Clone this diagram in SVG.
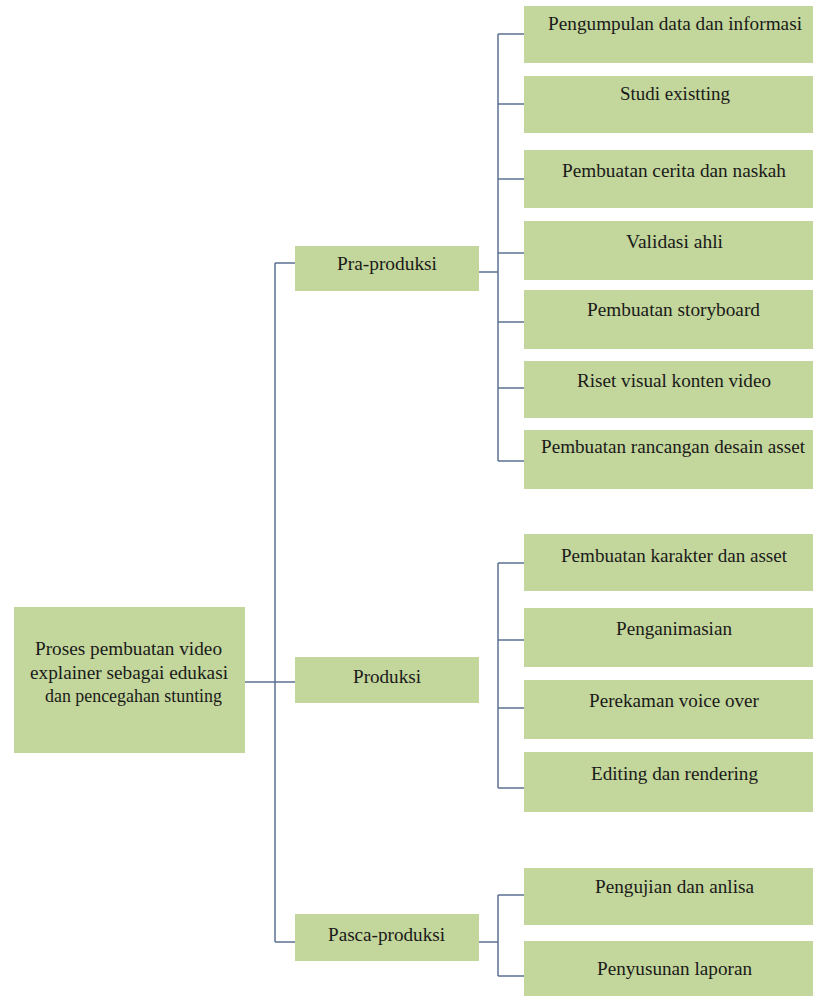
<svg xmlns="http://www.w3.org/2000/svg" width="813" height="996" viewBox="0 0 813 996" font-family="Liberation Serif, DejaVu Serif, Times New Roman, serif">
<style>
.box{fill:#c3d69b}
.t{font-size:18px;fill:#1a1a1a;text-anchor:middle}
.conn line{stroke:#5a7190;stroke-width:1.5;fill:none}
</style>
<rect width="813" height="996" fill="#ffffff"/>
<g class="conn" id="connectors">
<line x1="245" y1="682" x2="295" y2="682"/>
<line x1="275" y1="263" x2="275" y2="942"/>
<line x1="275" y1="263" x2="295" y2="263"/>
<line x1="275" y1="942" x2="295" y2="942"/>
<line x1="472" y1="272" x2="498" y2="272"/>
<line x1="498" y1="34" x2="498" y2="461"/>
<line x1="498" y1="34" x2="524" y2="34"/>
<line x1="498" y1="104" x2="524" y2="104"/>
<line x1="498" y1="179" x2="524" y2="179"/>
<line x1="498" y1="253" x2="524" y2="253"/>
<line x1="498" y1="322" x2="524" y2="322"/>
<line x1="498" y1="388" x2="524" y2="388"/>
<line x1="498" y1="461" x2="524" y2="461"/>
<line x1="498" y1="563" x2="498" y2="788"/>
<line x1="498" y1="563" x2="524" y2="563"/>
<line x1="498" y1="640" x2="524" y2="640"/>
<line x1="498" y1="708" x2="524" y2="708"/>
<line x1="498" y1="788" x2="524" y2="788"/>
<line x1="479" y1="942" x2="498" y2="942"/>
<line x1="498" y1="895" x2="498" y2="976"/>
<line x1="498" y1="895" x2="524" y2="895"/>
<line x1="498" y1="976" x2="524" y2="976"/>
</g>
<g id="root">
<rect class="box" x="14" y="607" width="231" height="146"/>
<text class="t" x="128.5" y="655" textLength="187" lengthAdjust="spacingAndGlyphs">Proses pembuatan video</text>
<text class="t" x="129" y="678.5" textLength="198" lengthAdjust="spacingAndGlyphs">explainer sebagai edukasi</text>
<text class="t" x="133.5" y="702" textLength="177" lengthAdjust="spacingAndGlyphs">dan pencegahan stunting</text>
</g>
<g id="pra"><rect class="box" x="295" y="246" width="184" height="45"/><text class="t" x="387" y="270" textLength="100" lengthAdjust="spacingAndGlyphs">Pra-produksi</text></g>
<g id="produksi"><rect class="box" x="295" y="657" width="184" height="46"/><text class="t" x="387" y="683" textLength="68" lengthAdjust="spacingAndGlyphs">Produksi</text></g>
<g id="pasca"><rect class="box" x="295" y="914" width="184" height="47"/><text class="t" x="386.5" y="941" textLength="117" lengthAdjust="spacingAndGlyphs">Pasca-produksi</text></g>
<g id="c1"><rect class="box" x="524" y="6" width="289" height="57"/><text class="t" x="675" y="30" textLength="254" lengthAdjust="spacingAndGlyphs">Pengumpulan data dan informasi</text></g>
<g id="c2"><rect class="box" x="524" y="76" width="289" height="57"/><text class="t" x="675" y="100" textLength="110" lengthAdjust="spacingAndGlyphs">Studi existting</text></g>
<g id="c3"><rect class="box" x="524" y="150" width="289" height="58"/><text class="t" x="674" y="177" textLength="224" lengthAdjust="spacingAndGlyphs">Pembuatan cerita dan naskah</text></g>
<g id="c4"><rect class="box" x="524" y="221" width="289" height="59"/><text class="t" x="674.5" y="248" textLength="97" lengthAdjust="spacingAndGlyphs">Validasi ahli</text></g>
<g id="c5"><rect class="box" x="524" y="290" width="289" height="59"/><text class="t" x="673.5" y="316" textLength="173" lengthAdjust="spacingAndGlyphs">Pembuatan storyboard</text></g>
<g id="c6"><rect class="box" x="524" y="361" width="289" height="57"/><text class="t" x="674" y="387" textLength="194" lengthAdjust="spacingAndGlyphs">Riset visual konten video</text></g>
<g id="c7"><rect class="box" x="524" y="430" width="289" height="59"/><text class="t" x="673" y="453" textLength="264" lengthAdjust="spacingAndGlyphs">Pembuatan rancangan desain asset</text></g>
<g id="c8"><rect class="box" x="524" y="534" width="289" height="57"/><text class="t" x="674" y="562" textLength="226" lengthAdjust="spacingAndGlyphs">Pembuatan karakter dan asset</text></g>
<g id="c9"><rect class="box" x="524" y="608" width="289" height="59"/><text class="t" x="674" y="635" textLength="116" lengthAdjust="spacingAndGlyphs">Penganimasian</text></g>
<g id="c10"><rect class="box" x="524" y="680" width="289" height="59"/><text class="t" x="674" y="707" textLength="170" lengthAdjust="spacingAndGlyphs">Perekaman voice over</text></g>
<g id="c11"><rect class="box" x="524" y="752" width="289" height="60"/><text class="t" x="674.5" y="780" textLength="167" lengthAdjust="spacingAndGlyphs">Editing dan rendering</text></g>
<g id="c12"><rect class="box" x="524" y="868" width="289" height="57"/><text class="t" x="674.5" y="893" textLength="159" lengthAdjust="spacingAndGlyphs">Pengujian dan anlisa</text></g>
<g id="c13"><rect class="box" x="524" y="941" width="289" height="55"/><text class="t" x="674.5" y="975" textLength="155" lengthAdjust="spacingAndGlyphs">Penyusunan laporan</text></g>
</svg>
